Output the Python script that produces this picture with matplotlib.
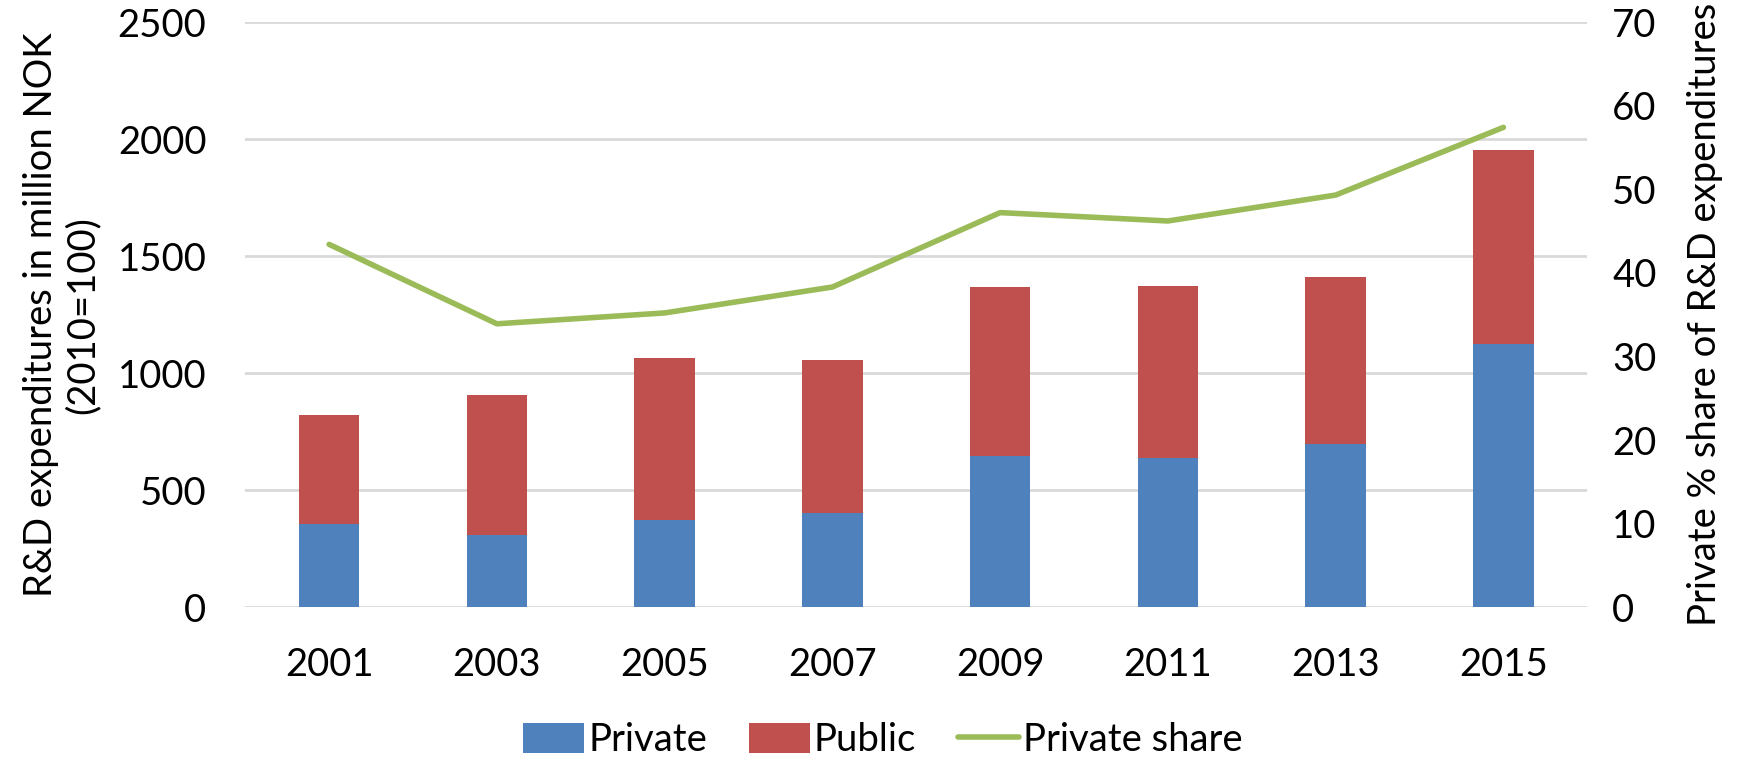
import matplotlib
matplotlib.use("Agg")
import matplotlib.pyplot as plt
import numpy as np

plt.rcParams['font.family'] = ['Lato', 'DejaVu Sans']

years = ['2001', '2003', '2005', '2007', '2009', '2011', '2013', '2015']
private = [354, 308, 371, 404, 646, 636, 697, 1124]
public = [466, 600, 692, 652, 720, 735, 714, 831]
private_share = [43.4, 33.9, 35.2, 38.3, 47.2, 46.2, 49.3, 57.4]

c_priv = '#4F81BD'
c_pub = '#C0504D'
c_share = '#9BBB59'
c_grid = '#D9D9D9'
fs = 27.5

fig = plt.figure(figsize=(17.52, 7.59), dpi=100)
ax = fig.add_axes([0.140, 0.200, 0.766, 0.771])
x = np.arange(len(years))

b1 = ax.bar(x, private, width=0.36, color=c_priv, label='Private', zorder=2)
b2 = ax.bar(x, public, width=0.36, bottom=private, color=c_pub, label='Public', zorder=2)
ax.set_xlim(-0.5, len(years) - 0.5)
ax.set_ylim(0, 2500)
ax.set_yticks(range(0, 2501, 500))
ax.set_xticks(x)
ax.set_xticklabels(years)
ax.yaxis.grid(True, color=c_grid, linewidth=2)
ax.set_axisbelow(True)
for s in ax.spines.values():
    s.set_visible(False)
ax.tick_params(axis='both', length=0, labelsize=fs)
ax.tick_params(axis='y', pad=28)
ax.tick_params(axis='x', pad=29)
ax.set_ylabel('R&D expenditures in million NOK\n(2010=100)', fontsize=fs, labelpad=12)

ax2 = ax.twinx()
l1, = ax2.plot(x, private_share, color=c_share, linewidth=4, solid_capstyle='round',
               label='Private share', zorder=3)
ax2.set_ylim(0, 70)
ax2.set_yticks(range(0, 71, 10))
for s in ax2.spines.values():
    s.set_visible(False)
ax2.tick_params(axis='y', length=0, labelsize=fs, pad=18)
ax2.set_ylabel('Private % share of R&D expenditures', fontsize=fs, labelpad=22)

fig.legend(handles=[b1, b2, l1], loc='center', bbox_to_anchor=(0.504, 0.025),
           ncol=3, frameon=False, fontsize=fs, handlelength=1.6, handleheight=0.85,
           columnspacing=1.1, handletextpad=0.1)

fig.savefig('out.png', dpi=100)
